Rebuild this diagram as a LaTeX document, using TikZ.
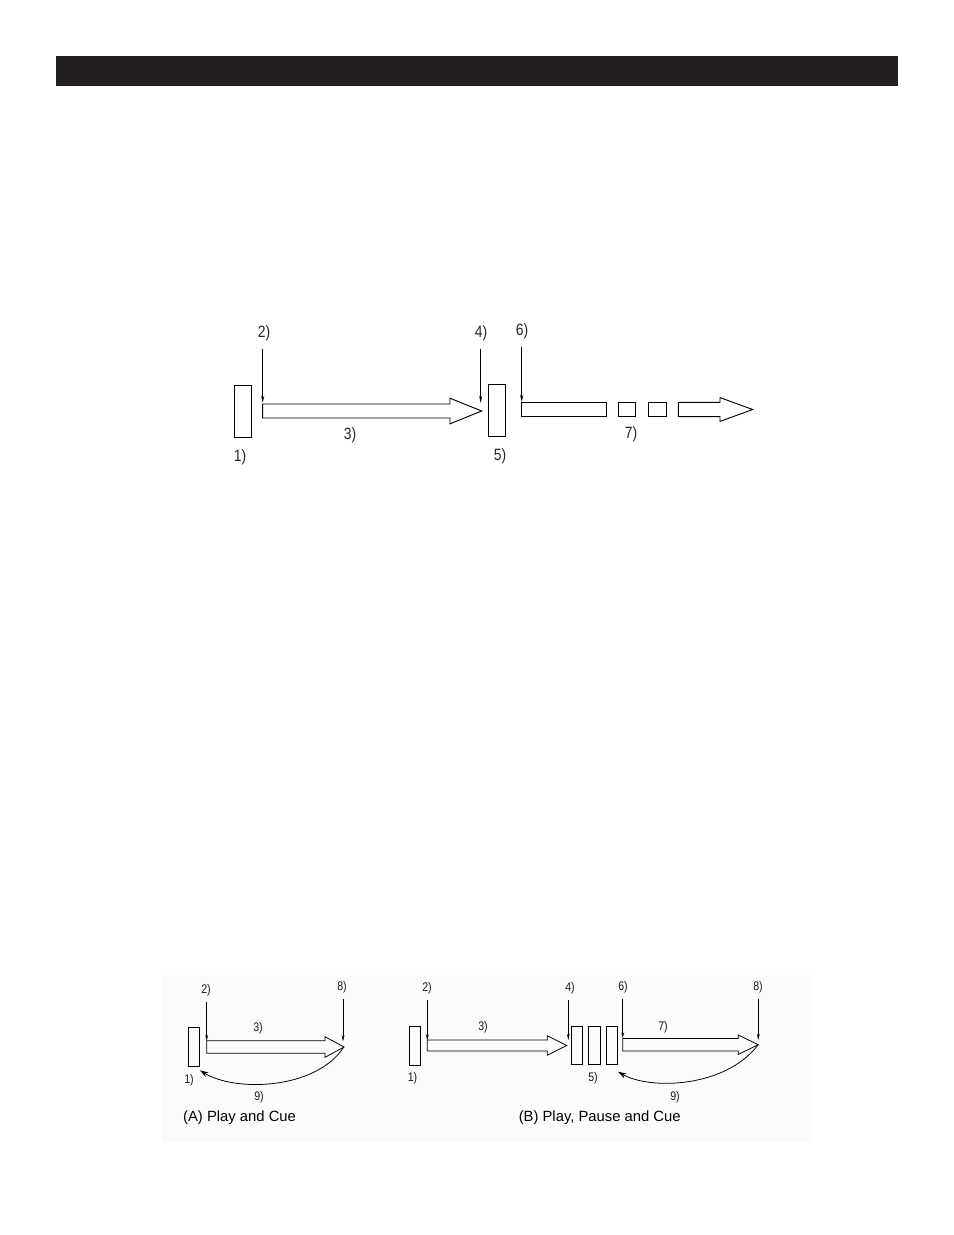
\documentclass[tikz,border=0pt]{standalone}
\usepackage{fontspec}
\usepackage{tikz}
\usetikzlibrary{arrows.meta}
\newfontfamily\techfont[FakeStretch=0.85]{Liberation Sans}
\newfontfamily\capfont{Liberation Sans}
\definecolor{barblack}{RGB}{35,31,32}
\definecolor{panelgray}{RGB}{251,251,251}
\tikzset{
  lbl/.style={inner sep=0pt,font=\techfont\fontsize{10.5}{12}\selectfont,text=black!85},
  lbls/.style={inner sep=0pt,font=\techfont\fontsize{8}{9}\selectfont,text=black!90},
  capt/.style={inner sep=0pt,font=\capfont\fontsize{9.5}{11}\selectfont},
  slab/.style 2 args={draw,inner sep=0pt,minimum width=#1*0.6415pt,minimum height=#2*0.6415pt},
  tick/.style={-{Stealth[length=4.5pt,width=2pt]}},
  ticks/.style={-{Stealth[length=4pt,width=1.8pt]}},
  backcurve/.style={-{Stealth[length=5.5pt,width=3.4pt]}}
}
\begin{document}
\begin{tikzpicture}[x=0.6415pt,y=-0.6415pt,line width=0.6pt]
  \useasboundingbox (0,0) rectangle (954,1235);
  \fill[barblack] (56,56) rectangle (898,86);
  % top: play, pause, play on
  \node[slab={16.7}{51.6}] (b1) at (243.3,411.5) {};
  \node[slab={17}{52}] (b5) at (496.5,410) {};
  \node[slab={84.3}{14.4}] (r7) at (563.9,409.5) {};
  \node[slab={16.7}{14.4}] (q1) at (626.7,409.5) {};
  \node[slab={17.7}{14.4}] (q2) at (657.2,409.5) {};
  \foreach \xa/\xb/\xt/\ym/\sh/\hh in {262.7/450/481.7/411/7/12.8,678.3/720/752.7/409.5/7.2/11.9}
    \draw (\xa,\ym-\sh) -- (\xb,\ym-\sh) -- (\xb,\ym-\hh) -- (\xt,\ym)
          -- (\xb,\ym+\hh) -- (\xb,\ym+\sh) -- (\xa,\ym+\sh) -- cycle;
  \coordinate (in2) at (262.7,402.8);
  \coordinate (in4) at (480.7,402.8);
  \coordinate (in6) at (521.7,402);
  \node[lbl] (n1) at (240,457) {1)};
  \node[lbl] (n2) at (264,333) {2)};
  \node[lbl] (n3) at (350,435) {3)};
  \node[lbl] (n4) at (481,333) {4)};
  \node[lbl] (n5) at (500,456) {5)};
  \node[lbl] (n6) at (522,331) {6)};
  \node[lbl] (n7) at (631,434) {7)};
  \foreach \n in {2,4,6}
    \draw[tick,shorten <=5pt] (n\n.south -| in\n) -- (in\n);
  % bottom panel
  \fill[panelgray] (162,975) rectangle (812,1142);
  \begin{scope}[line width=0.5pt]
    % (A)
    \node[slab={11}{39}] (a1) at (193.5,1046.5) {};
    % (B)
    \node[slab={11.4}{38.3}] (c1) at (415,1045.8) {};
    \node[slab={11}{38.3}] (c5a) at (577.2,1045.2) {};
    \node[slab={11.7}{38.3}] (c5b) at (594.2,1045.2) {};
    \node[slab={11}{38.3}] (c5c) at (612.2,1045.2) {};
    \foreach \xa/\xb/\xt/\ym/\sh/\hh in {206.7/325/344/1047/6.2/10.3,427.3/547.3/566.7/1045.5/5.5/9.7,622.7/738.3/758.3/1044.7/6.3/9.7}
      \draw (\xa,\ym-\sh) -- (\xb,\ym-\sh) -- (\xb,\ym-\hh) -- (\xt,\ym)
            -- (\xb,\ym+\hh) -- (\xb,\ym+\sh) -- (\xa,\ym+\sh) -- cycle;
    \coordinate (tipA) at (343.5,1047.5);
    \coordinate (tipB) at (758,1045);
    \coordinate (ia2) at (206.7,1041);
    \coordinate (ia8) at (343,1041.5);
    \coordinate (ic2) at (427.3,1040.5);
    \coordinate (ic4) at (568.3,1040);
    \coordinate (ic6) at (622.7,1038.5);
    \coordinate (ic8) at (758.3,1040);
    \node[lbls] (ma1) at (189,1080) {1)};
    \node[lbls] (ma2) at (206,990) {2)};
    \node[lbls] (ma3) at (258,1028) {3)};
    \node[lbls] (ma8) at (342,987) {8)};
    \node[lbls] (ma9) at (259,1097) {9)};
    \node[lbls] (mc1) at (412.5,1078) {1)};
    \node[lbls] (mc2) at (427,988) {2)};
    \node[lbls] (mc3) at (483,1027) {3)};
    \node[lbls] (mc4) at (570,988) {4)};
    \node[lbls] (mc5) at (593,1078) {5)};
    \node[lbls] (mc6) at (623,987) {6)};
    \node[lbls] (mc7) at (663,1027) {7)};
    \node[lbls] (mc8) at (758,987) {8)};
    \node[lbls] (mc9) at (675,1097) {9)};
    \foreach \n in {a2,a8,c2,c4,c6,c8}
      \draw[ticks,shorten <=4pt] (m\n.south -| i\n) -- (i\n);
    \draw[backcurve] (tipA) .. controls (315,1090) and (235,1092) .. ([xshift=0.3pt,yshift=-2.5pt]a1.south east);
    \draw[backcurve] (tipB) .. controls (725,1088) and (650,1090) .. ([yshift=-4.5pt]c5c.south east);
  \end{scope}
  \node[capt,anchor=west] (capA) at (182.7,1118) {(A) Play and Cue};
  \node[capt,anchor=west] (capB) at (518.3,1118) {(B) Play, Pause and Cue};
\end{tikzpicture}
\end{document}
